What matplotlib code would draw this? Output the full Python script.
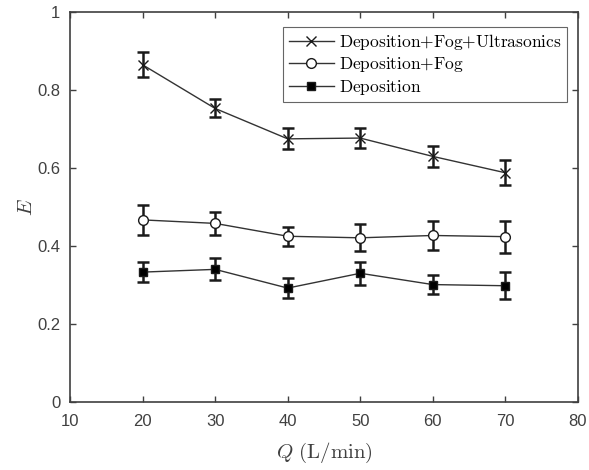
import numpy as np
import matplotlib.pyplot as plt

plt.rcParams['mathtext.fontset'] = 'cm'
plt.rcParams['font.family'] = ['Liberation Sans', 'DejaVu Sans']

# Flow rate (L/min)
q = [20, 30, 40, 50, 60, 70]

# Deposition + Fog + Ultrasonics
e_ultra = [0.865, 0.753, 0.675, 0.677, 0.630, 0.588]
err_ultra = [0.032, 0.023, 0.027, 0.025, 0.027, 0.032]

# Deposition + Fog
e_fog = [0.467, 0.458, 0.425, 0.421, 0.427, 0.424]
err_fog = [0.038, 0.029, 0.025, 0.035, 0.036, 0.041]

# Deposition
e_dep = [0.333, 0.340, 0.292, 0.330, 0.301, 0.298]
err_dep = [0.025, 0.028, 0.026, 0.030, 0.025, 0.034]

fig = plt.figure(figsize=(5.89, 4.70), dpi=100)
ax = fig.add_axes([0.119, 0.145, 0.862, 0.829])

series = [
    (e_ultra, err_ultra, 'x', 'black', r'$\mathrm{Deposition{+}Fog{+}Ultrasonics}$', 7),
    (e_fog, err_fog, 'o', 'white', r'$\mathrm{Deposition{+}Fog}$', 7),
    (e_dep, err_dep, 's', 'black', r'$\mathrm{Deposition}$', 5.5),
]

for vals, errs, mk, fc, lab, ms in series:
    ax.errorbar(q, vals, yerr=errs, fmt='none', ecolor='#1a1a1a',
                elinewidth=1.8, capsize=4, capthick=1.8, zorder=2)
    ax.plot(q, vals, color='#333333', lw=1.0, marker=mk, markersize=ms,
            markerfacecolor=fc, markeredgecolor='#1a1a1a', markeredgewidth=1.0,
            label=lab, zorder=3)

ax.set_xlim(10, 80)
ax.set_ylim(0, 1)
ax.set_xticks(np.arange(10, 81, 10))
ax.set_yticks([0, 0.2, 0.4, 0.6, 0.8, 1])
ax.set_yticklabels(['0', '0.2', '0.4', '0.6', '0.8', '1'])

ax.tick_params(direction='in', length=4, width=1.0, colors='#404040',
               labelsize=12, labelcolor='#404040', top=True, right=True)
ax.tick_params(axis='x', pad=9)
ax.tick_params(axis='y', pad=7)
for s in ax.spines.values():
    s.set_color('#404040')
    s.set_linewidth(1.2)

ax.set_xlabel(r'$Q\ \mathrm{(L/min)}$', fontsize=15, color='#404040', labelpad=8)
ax.set_ylabel(r'$E$', fontsize=15, color='#404040', labelpad=1)

leg = ax.legend(loc='upper right', bbox_to_anchor=(0.995, 0.985), fontsize=12.5,
                frameon=True, fancybox=False, edgecolor='#404040',
                handlelength=2.6, borderpad=0.3, labelspacing=0.2,
                handletextpad=0.3)
leg.get_frame().set_linewidth(0.8)

fig.savefig('out.png', dpi=100)
